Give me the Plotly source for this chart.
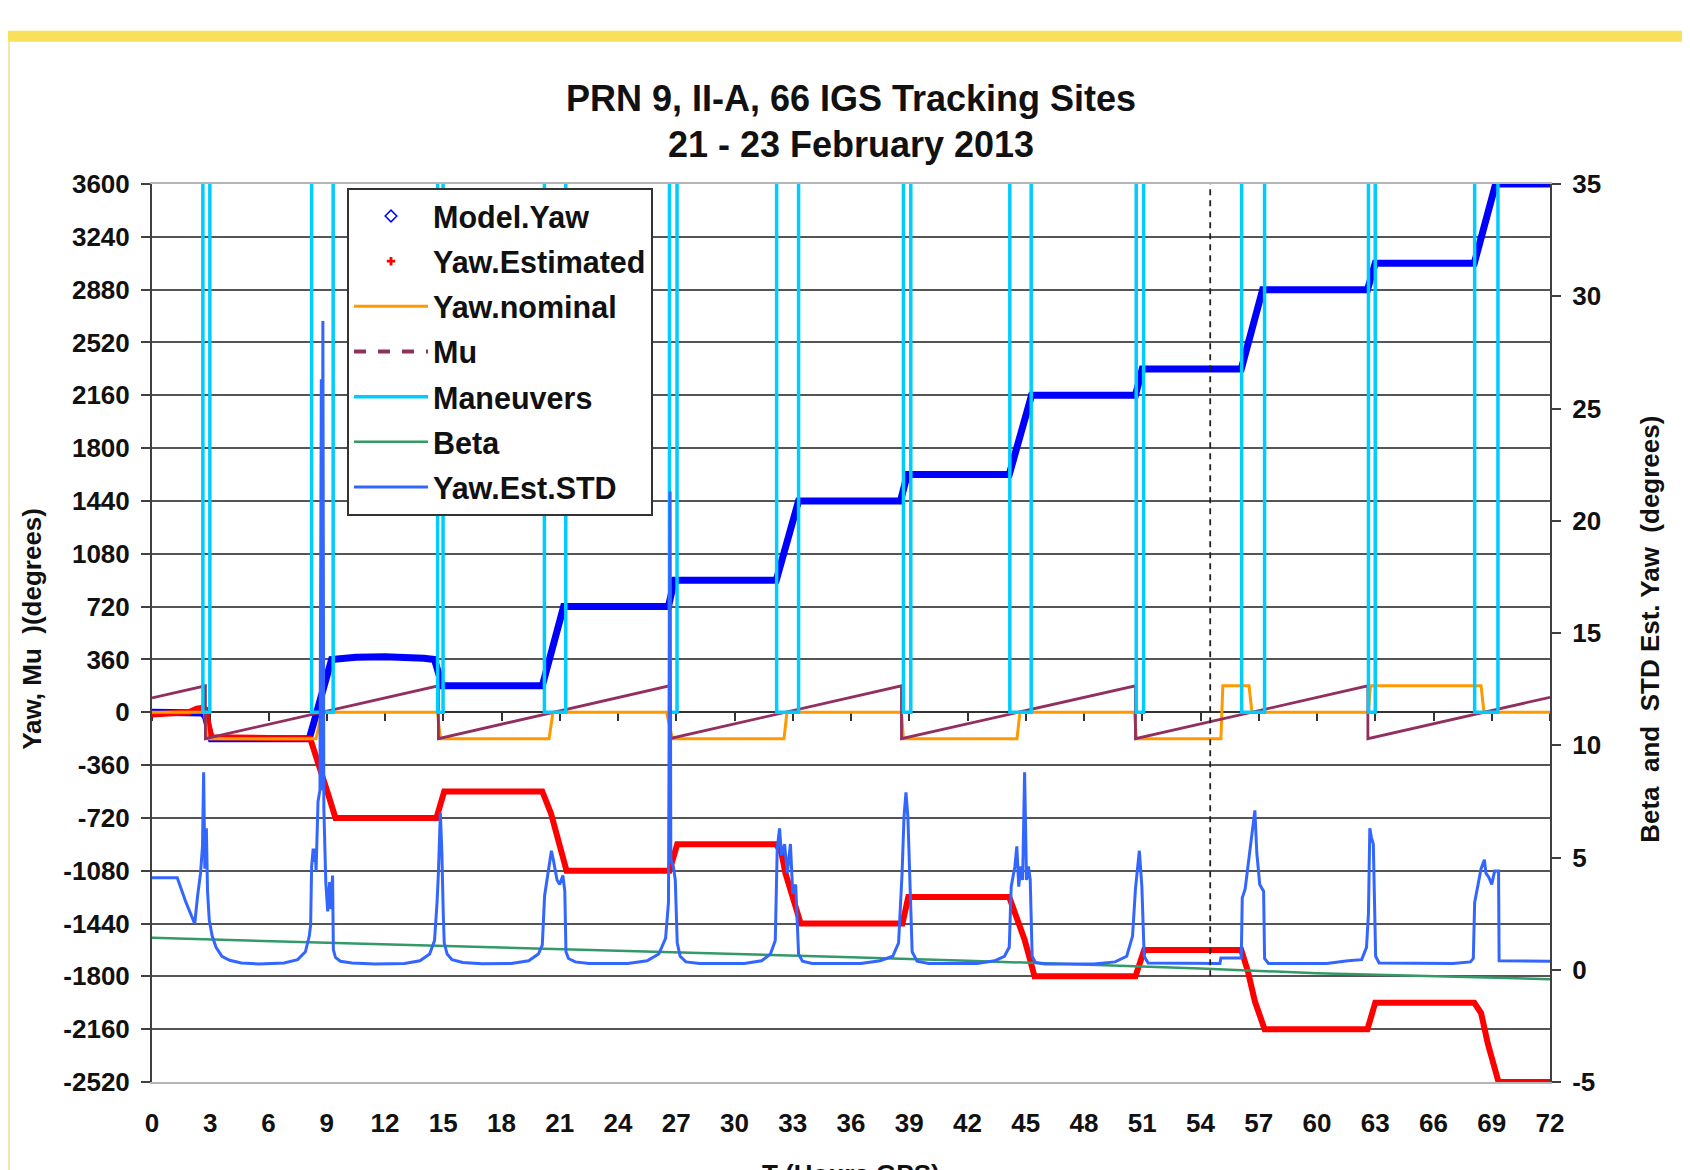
import plotly.graph_objects as go

# ---------------- data (hours GPS) ----------------
MODEL_T = [0, 1.9, 2.6, 2.75, 3.05, 8.1, 8.6, 9.25, 10.5, 12.0, 14.0, 14.55, 14.95, 20.1, 21.2, 26.6, 26.9,
           32.15, 33.3, 38.55, 38.9, 44.15, 45.3, 50.65, 51.0, 56.1, 57.2, 62.6, 63.0, 68.1, 69.2, 72]
MODEL_Y = [0, 0, -5, -30, -180, -180, 40, 360, 375, 378, 368, 360, 180, 180, 720, 720, 900,
           900, 1440, 1440, 1620, 1620, 2160, 2160, 2340, 2340, 2880, 2880, 3060, 3060, 3600, 3600]

EST_T = [0, 1.3, 1.9, 2.3, 2.6, 2.75, 3.05, 8.15, 8.65, 9.05, 9.45, 14.65, 15.05, 20.1, 20.55, 21.35,
         26.65, 27.05, 32.15, 32.42, 32.62, 33.01, 33.41, 38.65, 38.95, 44.15, 44.54, 44.94, 45.23, 45.45,
         50.65, 51.1, 56.1, 56.45, 56.8, 57.3, 62.6, 63.0, 68.1, 68.45, 68.8, 69.35, 72]
EST_Y = [-15, -10, 0, 25, 30, 20, -170, -180, -370, -550, -720, -720, -540, -540, -690, -1080,
         -1080, -900, -900, -960, -1096, -1278, -1440, -1440, -1260, -1260, -1390, -1550, -1690, -1800,
         -1800, -1620, -1620, -1770, -1970, -2160, -2160, -1980, -1980, -2050, -2260, -2520, -2520]

NOM_T = [0, 2.7, 2.85, 8.45, 8.75, 14.7, 14.85, 20.45, 20.65, 26.5, 26.8, 32.55, 32.7, 38.6, 38.7,
         44.55, 44.7, 50.6, 50.7, 55.05, 55.15, 56.5, 56.65, 62.65, 62.75, 68.45, 68.6, 72]
NOM_Y = [0, 0, -180, -180, 0, 0, -180, -180, 0, 0, -180, -180, 0, 0, -180,
         -180, 0, 0, -180, -180, 180, 180, 0, 0, 180, 180, 0, 0]

MU_T = [0, 2.75, 2.75, 14.75, 14.75, 26.65, 26.65, 38.6, 38.6, 50.65, 50.65, 62.62, 62.62, 72]
MU_Y = [97, 180, -180, 180, -180, 180, -180, 180, -180, 180, -180, 180, -180, 102]

MAN_START = [2.62, 8.22, 14.71, 20.21, 26.65, 32.17, 38.70, 44.18, 50.69, 56.12, 62.65, 68.12]
MAN_END = [2.98, 9.33, 14.99, 21.31, 27.04, 33.30, 39.08, 45.28, 51.07, 57.30, 63.00, 69.32]
MAN_HIGH = 4000
MAN_LOW = 0

BETA_T = [0, 6, 12, 18, 24, 30, 36, 42, 48, 54, 60, 66, 72]
BETA_V = [1.42, 1.28, 1.14, 1.0, 0.86, 0.71, 0.56, 0.40, 0.24, 0.06, -0.16, -0.29, -0.42]

STD_T = [0, 1.3, 1.75, 2.2, 2.35, 2.5, 2.6, 2.66, 2.72, 2.8, 2.86, 2.95, 3.1, 3.3, 3.6, 4.0, 4.6, 5.5,
         6.8, 7.5, 7.9, 8.1, 8.17, 8.22, 8.3, 8.35, 8.4, 8.45, 8.55, 8.65, 8.72, 8.76, 8.8, 8.85, 8.95,
         9.05, 9.15, 9.22, 9.3, 9.34, 9.45, 9.7, 10.3, 11.5,
         13.0, 13.8, 14.3, 14.55, 14.68, 14.75, 14.85, 14.93, 15.0, 15.05, 15.2, 15.45, 16.0, 17.0,
         18.5, 19.4, 19.9, 20.1, 20.22, 20.4, 20.57, 20.67, 20.86, 21.0, 21.16, 21.26, 21.32, 21.45, 21.8, 22.5,
         24.5, 25.5, 26.1, 26.45, 26.6, 26.68, 26.72, 26.85, 26.95, 27.05, 27.2, 27.5, 28.2,
         30.5, 31.4, 31.85, 32.1, 32.2, 32.32, 32.42, 32.58, 32.72, 32.88, 33.0, 33.15, 33.3, 33.5, 34.0,
         36.5, 37.5, 38.15, 38.45, 38.63, 38.73, 38.83, 38.93, 39.03, 39.15, 39.4, 40.0,
         42.5, 43.4, 43.9, 44.15, 44.25, 44.44, 44.54, 44.64, 44.74, 44.84, 44.94, 45.04, 45.14, 45.23,
         45.33, 45.5, 46.0,
         48.5, 49.6, 50.2, 50.5, 50.65, 50.85, 50.98, 51.1, 51.3,
         55.0, 55.05, 56.1, 56.15, 56.3, 56.5, 56.65, 56.8, 56.9, 57.05, 57.25, 57.3, 57.5,
         60.5, 61.6, 62.3, 62.55, 62.65, 62.72, 62.8, 62.9, 62.97, 63.02, 63.2,
         67.0, 67.9, 68.05, 68.12, 68.25, 68.45, 68.62, 68.7, 68.86, 69.0, 69.15, 69.35, 69.38, 72]
STD_V = [4.1, 4.1, 3.0, 2.05, 3.3, 4.3, 5.5, 8.8, 4.5, 6.3, 3.5, 2.2, 1.5, 1.0, 0.6, 0.42, 0.3, 0.26,
         0.3, 0.45, 0.8, 1.5, 2.0, 4.6, 5.4, 4.8, 5.4, 4.4, 7.5, 8.0, 26.3, 8.0, 28.9, 7.2, 3.9,
         2.6, 3.9, 2.7, 4.2, 0.9, 0.55, 0.38, 0.3, 0.26,
         0.28, 0.4, 0.7, 1.3, 3.0, 4.3, 7.0, 5.2, 2.5, 1.2, 0.7, 0.45, 0.32, 0.27,
         0.28, 0.4, 0.7, 1.1, 3.3, 4.3, 5.3, 4.9, 4.0, 3.8, 4.2, 3.5, 0.8, 0.5, 0.35, 0.28,
         0.28, 0.4, 0.7, 1.4, 3.0, 21.3, 4.9, 4.6, 4.0, 1.2, 0.6, 0.35, 0.28,
         0.28, 0.4, 0.7, 1.3, 5.4, 6.3, 5.1, 5.6, 4.3, 5.6, 3.4, 3.8, 0.7, 0.38, 0.28,
         0.28, 0.4, 0.6, 1.2, 4.3, 6.8, 7.9, 6.8, 4.3, 0.8, 0.38, 0.28,
         0.28, 0.4, 0.6, 1.0, 3.7, 4.6, 5.5, 3.7, 4.6, 4.0, 8.8, 4.0, 4.6, 4.0,
         0.6, 0.32, 0.26,
         0.26, 0.35, 0.6, 1.5, 3.6, 5.3, 3.7, 0.6, 0.3,
         0.28, 0.52, 0.52, 3.2, 3.6, 5.0, 6.0, 7.1, 5.2, 3.8, 3.5, 0.5, 0.28,
         0.28, 0.4, 0.45, 1.0, 2.5, 6.3, 5.9, 5.6, 3.0, 0.6, 0.3,
         0.28, 0.35, 0.5, 3.0, 3.6, 4.5, 4.9, 4.3, 4.1, 3.8, 4.4, 4.4, 0.4, 0.38]

MARK_T = [54.5, 54.5]
MARK_Y = [-1800, 3600]

LEFT_TICKS = [-2520, -2160, -1800, -1440, -1080, -720, -360, 0, 360, 720, 1080, 1440, 1800, 2160, 2520,
              2880, 3240, 3600]
LEFT_TICK_TEXT = ["-2520", "-2160", "-1800", "-1440", "-1080", "-720", "-360", "0", "360", "720", "1080",
                  "1440", "1800", "2160", "2520", "2880", "3240", "3600"]
RIGHT_TICKS = [-5, 0, 5, 10, 15, 20, 25, 30, 35]
RIGHT_TICK_TEXT = ["-5", "0", "5", "10", "15", "20", "25", "30", "35"]
X_TICKS = [0, 3, 6, 9, 12, 15, 18, 21, 24, 27, 30, 33, 36, 39, 42, 45, 48, 51, 54, 57, 60, 63, 66, 69, 72]

# ---------------- style ----------------
FONT = "Liberation Sans, Arial, sans-serif"
C_MODEL = "#0000FF"
C_EST = "#FF0000"
C_NOM = "#FF9900"
C_MU = "#913060"
C_MAN = "#00CCFF"
C_BETA = "#339966"
C_STD = "#3366FF"
C_GRID = "#555555"
C_AXIS = "#404040"

# The page body has an 8px margin; the figure is sized so that the plot area
# lands at page pixels x 152..1550, y 184..1082.
PAGE_OFF = 8
FIG_W, FIG_H = 1690 - PAGE_OFF, 1170 - PAGE_OFF

man_x, man_y = [], []
for t1, t2 in zip(MAN_START, MAN_END):
    man_x += [t1, t1, t2, t2]
    man_y += [MAN_HIGH, MAN_LOW, MAN_LOW, MAN_HIGH]

fig = go.Figure()

# Model.Yaw
fig.add_trace(go.Scatter(x=MODEL_T, y=MODEL_Y, mode="lines", line=dict(color=C_MODEL, width=7),
                         name="Model.Yaw", legendgroup="g1", showlegend=False))
fig.add_trace(go.Scatter(x=[None], y=[None], mode="markers",
                         marker=dict(symbol="diamond-open", size=9, color=C_MODEL, line=dict(width=1.5)),
                         name="Model.Yaw", legendgroup="g1"))
# Yaw.Estimated
fig.add_trace(go.Scatter(x=EST_T, y=EST_Y, mode="lines", line=dict(color=C_EST, width=6),
                         name="Yaw.Estimated", legendgroup="g2", showlegend=False))
fig.add_trace(go.Scatter(x=[None], y=[None], mode="markers",
                         marker=dict(symbol="cross", size=7, color=C_EST),
                         name="Yaw.Estimated", legendgroup="g2"))
# Yaw.nominal
fig.add_trace(go.Scatter(x=NOM_T, y=NOM_Y, mode="lines", line=dict(color=C_NOM, width=3),
                         name="Yaw.nominal", legendgroup="g3"))
# Mu
fig.add_trace(go.Scatter(x=MU_T, y=MU_Y, mode="lines", line=dict(color=C_MU, width=2.8),
                         name="Mu", legendgroup="g4", showlegend=False))
fig.add_trace(go.Scatter(x=[None], y=[None], mode="lines", line=dict(color=C_MU, width=4, dash="dash"),
                         name="Mu", legendgroup="g4"))
# Maneuvers
fig.add_trace(go.Scatter(x=man_x, y=man_y, mode="lines", line=dict(color=C_MAN, width=3.5),
                         name="Maneuvers", legendgroup="g5"))
# dashed marker line
fig.add_trace(go.Scatter(x=MARK_T, y=MARK_Y, mode="lines", xaxis="x2", yaxis="y",
                         line=dict(color="#222222", width=1.8, dash="6px,5px"), showlegend=False,
                         hoverinfo="skip"))
# Beta
fig.add_trace(go.Scatter(x=BETA_T, y=BETA_V, mode="lines", yaxis="y2", line=dict(color=C_BETA, width=2.5),
                         name="Beta", legendgroup="g6"))
# Yaw.Est.STD
fig.add_trace(go.Scatter(x=STD_T, y=STD_V, mode="lines", yaxis="y2", line=dict(color=C_STD, width=3),
                         name="Yaw.Est.STD", legendgroup="g7"))

tickfont = dict(family=FONT, size=26, color="#111111", weight="bold")


def px(xp):
    return (xp - 152) / 1398.0


def py(yp):
    return (1082.1 - yp) / 897.8


fig.update_layout(
    width=FIG_W, height=FIG_H,
    margin=dict(l=152 - PAGE_OFF, r=140, t=184 - PAGE_OFF, b=88),
    paper_bgcolor="white", plot_bgcolor="white",
    font=dict(family=FONT, color="#111111"),
    title=dict(text="PRN 9, II-A, 66 IGS Tracking Sites<br>21 - 23 February 2013",
               x=0.5, xref="paper", xanchor="center", y=1 - (110.5 - PAGE_OFF) / FIG_H, yref="container",
               yanchor="middle", font=dict(family=FONT, size=36, color="#111111", weight="bold")),
    xaxis=dict(range=[0, 72], tickvals=X_TICKS, ticks="", showgrid=False, zeroline=False,
               showline=True, linecolor="#b5b5b5", linewidth=2, mirror=True,
               tickfont=tickfont, ticklabelstandoff=17),
    xaxis2=dict(range=[0, 72], overlaying="x", anchor="free", position=2520 / 6120,
                tickvals=X_TICKS, ticks="outside", ticklen=8, tickwidth=1.5, tickcolor="#333333",
                showticklabels=False, showgrid=False, zeroline=False, layer="below traces",
                showline=True, linecolor="#333333", linewidth=2),
    yaxis=dict(range=[-2520, 3600], tickvals=LEFT_TICKS, ticktext=LEFT_TICK_TEXT, ticks="outside",
               ticklen=9, tickwidth=1.5,
               tickcolor=C_AXIS, showgrid=True, gridcolor=C_GRID, gridwidth=1.5, zeroline=False,
               showline=True, linecolor=C_AXIS, linewidth=2, tickfont=tickfont, ticklabelstandoff=6),
    yaxis2=dict(range=[-5, 35], tickvals=RIGHT_TICKS, ticktext=RIGHT_TICK_TEXT, overlaying="y",
                side="right", anchor="x",
                ticks="outside", ticklen=9, tickwidth=1.5, tickcolor=C_AXIS, showgrid=False,
                zeroline=False, showline=True, linecolor=C_AXIS, linewidth=2, tickfont=tickfont,
                ticklabelstandoff=6),
    legend=dict(x=px(347), y=py(188), xanchor="left", yanchor="top",
                bgcolor="white", bordercolor="#333333", borderwidth=2, tracegroupgap=2.5,
                itemwidth=74, traceorder="grouped",
                font=dict(family=FONT, size=30.5, color="#111111", weight="bold")),
    showlegend=True,
    annotations=[
        dict(text="Yaw, Mu  )(degrees)", textangle=-90, xref="paper", yref="paper",
             x=px(32), y=py(629), xanchor="center", yanchor="middle",
             showarrow=False, font=dict(family=FONT, size=26, color="#111111", weight="bold")),
        dict(text="Beta  and  STD Est. Yaw  (degrees)", textangle=-90, xref="paper", yref="paper",
             x=px(1650), y=py(630), xanchor="center", yanchor="middle",
             showarrow=False, font=dict(family=FONT, size=26, color="#111111", weight="bold")),
        dict(text="T (Hours GPS)", xref="paper", yref="paper", x=0.5, y=py(1157),
             xanchor="center", yanchor="top", showarrow=False,
             font=dict(family=FONT, size=26, color="#111111", weight="bold")),
    ],
    shapes=[
        dict(type="rect", xref="paper", yref="paper", x0=-0.2, x1=1.3,
             y0=py(42), y1=py(31),
             fillcolor="#F8E05A", line=dict(width=0), layer="below"),
        dict(type="line", xref="paper", yref="paper", x0=px(PAGE_OFF + 1), x1=px(PAGE_OFF + 1),
             y0=py(42), y1=-0.2, line=dict(color="#F3E7A8", width=2), layer="below"),
    ],
)

fig.write_html("out.html")
